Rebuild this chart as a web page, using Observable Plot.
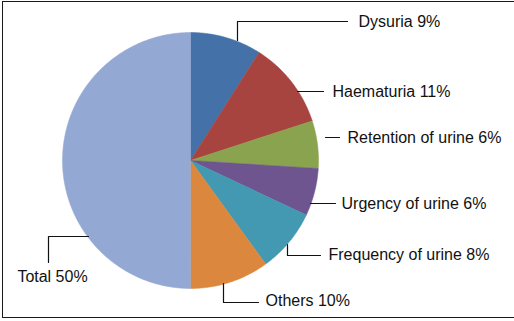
<!DOCTYPE html>
<html>
<head>
<meta charset="utf-8">
<script src="https://cdn.jsdelivr.net/npm/d3@7"></script>
<script src="https://cdn.jsdelivr.net/npm/@observablehq/plot@0.6"></script>
<style>
  html, body { margin: 0; padding: 0; background: #fff; }
  #frame { position: absolute; left: 2px; top: 1px; width: 520px; height: 317px; border: 1.5px solid #1a1a1a; box-sizing: border-box; }
  #chart { position: absolute; left: 0; top: 0; }
</style>
</head>
<body>
<div id="frame"></div>
<div id="chart"></div>
<script>
// ---- data ----
const categories = ["Dysuria", "Haematuria", "Retention of urine", "Urgency of urine", "Frequency of urine", "Others", "Total"];
const percents = [9, 11, 6, 6, 8, 10, 50];
const colors = ["#4472a8", "#a8443f", "#89a34e", "#6f558f", "#4299b1", "#dc873e", "#93a8d2"];

// ---- layout (annotation placement, pixels) ----
const W = 514, H = 321;
const center = [190, 160], radius = 128;
const leaders = [
  [[237, 40], [237, 21], [347, 21]],
  [[297, 91], [323, 91]],
  [[325, 137], [339, 137]],
  [[310, 203], [335, 203]],
  [[287, 244], [287, 255], [320, 255]],
  [[223, 283], [223, 302], [258, 302]],
  [[88, 236], [48, 236], [48, 262]]
];
const labelPos = [
  [358, 21, "start"], [332, 91, "start"], [347, 137, "start"], [341, 203, "start"],
  [328, 254, "start"], [265, 300, "start"], [52, 276, "middle"]
];

// build slices from d3.pie (clockwise from 12 o'clock)
const arcs = d3.pie().sort(null).value(d => d)(percents);
const slicePts = [];
arcs.forEach((a, i) => {
  const n = Math.max(2, Math.ceil((a.endAngle - a.startAngle) / 0.01));
  slicePts.push({k: i, x: center[0], y: center[1]});
  for (let j = 0; j <= n; j++) {
    const t = a.startAngle + (a.endAngle - a.startAngle) * j / n;
    slicePts.push({k: i, x: center[0] + radius * Math.sin(t), y: center[1] - radius * Math.cos(t)});
  }
  slicePts.push({k: i, x: center[0], y: center[1]});
});
const leaderPts = leaders.flatMap((pts, i) => pts.map(([x, y]) => ({k: i, x, y})));
const labels = categories.map((c, i) => ({
  text: `${c} ${percents[i]}%`, x: labelPos[i][0], y: labelPos[i][1], anchor: labelPos[i][2]
}));

const plot = Plot.plot({
  width: W, height: H,
  margin: 0,
  x: {domain: [0, W], range: [0, W], axis: null},
  y: {domain: [0, H], range: [0, H], axis: null},
  style: {fontFamily: "'Liberation Sans', Arial, Helvetica, sans-serif", background: "transparent"},
  marks: [
    ...arcs.map((a, i) => Plot.line(slicePts.filter(d => d.k === i), {
      x: "x", y: "y", fill: colors[i], stroke: colors[i], strokeWidth: 0.5, curve: "linear"
    })),
    Plot.line(leaderPts, {x: "x", y: "y", z: "k", stroke: "#111", strokeWidth: 1.2, curve: "linear"}),
    Plot.text(labels.filter(d => d.anchor === "start"), {x: "x", y: "y", text: "text", textAnchor: "start", fontSize: 16, fill: "#111"}),
    Plot.text(labels.filter(d => d.anchor === "middle"), {x: "x", y: "y", text: "text", textAnchor: "middle", fontSize: 16, fill: "#111"})
  ]
});
document.getElementById("chart").appendChild(plot);
</script>
</body>
</html>
